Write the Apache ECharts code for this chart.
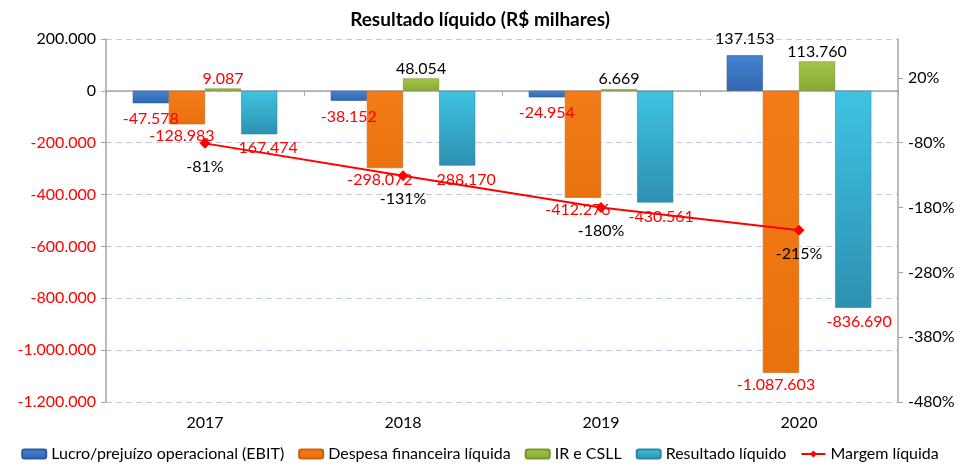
<!DOCTYPE html>
<html>
<head>
<meta charset="utf-8">
<script src="https://cdn.jsdelivr.net/npm/echarts@6/dist/echarts.min.js"></script>
<style>
  html, body { margin: 0; padding: 0; background: #fff; }
  #chart { width: 960px; height: 467px; }
</style>
</head>
<body>
<div id="chart"></div>
<script>
// dados (R$ milhares)
var anos = ["2017", "2018", "2019", "2020"];
var ebit = [-47578, -38152, -24954, 137153];
var despesa = [-128983, -298072, -412276, -1087603];
var irCsll = [9087, 48054, 6669, 113760];
var resultado = [-167474, -288170, -430561, -836690];
var margem = [-81, -131, -180, -215];

var FONT = "Lato";
var FS = 16;

function fmt(v) {
  var s = Math.abs(v).toString().replace(/\B(?=(\d{3})+(?!\d))/g, ".");
  return (v < 0 ? "-" : "") + s;
}

function grad(top, bottom) {
  return new echarts.graphic.LinearGradient(0, 0, 0, 1, [
    { offset: 0, color: top },
    { offset: 1, color: bottom },
  ]);
}

// label: vermelho p/ negativos, preto p/ positivos
function barItems(values, redIdx) {
  return values.map(function (v, i) {
    var red = v < 0 || (redIdx && redIdx.indexOf(i) >= 0);
    return {
      value: v,
      label: {
        position: v < 0 ? "bottom" : "top",
        color: red ? "#ff0000" : "#000",
      },
    };
  });
}

var labelBase = {
  show: true,
  fontFamily: FONT,
  fontSize: FS,
  formatter: function (p) {
    return fmt(p.value);
  },
};

var myChart = echarts.init(document.getElementById("chart"));
var option = {
  animation: false,
  title: {
    text: "Resultado líquido (R$ milhares)",
    left: "center",
    top: 5,
    textStyle: { fontFamily: FONT, fontSize: 19, fontWeight: "bold", color: "#000" },
  },
  legend: {
    bottom: 0,
    left: "center",
    itemWidth: 24,
    itemHeight: 9,
    itemGap: 14,
    textStyle: { fontFamily: FONT, fontSize: FS, color: "#000" },
    data: [
      "Lucro/prejuízo operacional (EBIT)",
      "Despesa financeira líquida",
      "IR e CSLL",
      "Resultado líquido",
      "Margem líquida",
    ],
  },
  grid: { left: 106, right: 62, top: 39, bottom: 65 },
  xAxis: [
    {
      type: "category",
      data: anos,
      axisLine: { show: false, onZero: false },
      axisTick: { show: false },
      axisLabel: { fontFamily: FONT, fontSize: FS, color: "#000", margin: 13 },
    },
    {
      // linha do zero
      type: "category",
      data: anos,
      position: "top",
      axisLine: { show: true, onZero: true, lineStyle: { color: "#a6a6a6", width: 1.5 } },
      axisTick: { show: true, inside: true, length: 5, lineStyle: { color: "#a6a6a6" } },
      axisLabel: { show: false },
    },
  ],
  yAxis: [
    {
      type: "value",
      min: -1200000,
      max: 200000,
      interval: 200000,
      axisLine: { show: true, lineStyle: { color: "#a6a6a6", width: 1.5 } },
      axisTick: { show: true, length: 5, lineStyle: { color: "#a6a6a6" } },
      splitLine: { lineStyle: { color: "#b8cce4", type: [6, 4] } },
      axisLabel: {
        fontFamily: FONT,
        fontSize: FS,
        margin: 10,
        formatter: function (v) {
          return v < 0 ? "{r|" + fmt(v) + "}" : "{k|" + fmt(v) + "}";
        },
        rich: {
          r: { color: "#ff0000", fontFamily: FONT, fontSize: FS },
          k: { color: "#000", fontFamily: FONT, fontSize: FS },
        },
      },
    },
    {
      type: "value",
      min: -480,
      max: 80,
      interval: 100,
      position: "right",
      axisLine: { show: true, lineStyle: { color: "#a6a6a6", width: 1.5 } },
      axisTick: { show: true, length: 5, lineStyle: { color: "#a6a6a6" } },
      splitLine: { show: false },
      axisLabel: {
        fontFamily: FONT,
        fontSize: FS,
        color: "#000",
        margin: 10,
        showMaxLabel: false,
        formatter: "{value}%",
      },
    },
  ],
  series: [
    {
      name: "Lucro/prejuízo operacional (EBIT)",
      type: "bar",
      barGap: "0%",
      barCategoryGap: "27%",
      data: barItems(ebit),
      itemStyle: { color: grad("#4584d2", "#3366ae"), borderColor: "#2c5b9c", borderWidth: 0.6 },
      label: Object.assign({}, labelBase, { distance: 8 }),
    },
    {
      name: "Despesa financeira líquida",
      type: "bar",
      data: barItems(despesa),
      itemStyle: { color: grad("#f47c18", "#ea720e"), borderColor: "#c9620a", borderWidth: 0.6 },
      label: Object.assign({}, labelBase, { distance: 4, offset: [-5, 0] }),
    },
    {
      name: "IR e CSLL",
      type: "bar",
      data: barItems(irCsll, [0]),
      itemStyle: { color: grad("#a6c44c", "#88a834"), borderColor: "#76962a", borderWidth: 0.6 },
      label: Object.assign({}, labelBase, { distance: 2 }),
    },
    {
      name: "Resultado líquido",
      type: "bar",
      data: barItems(resultado),
      itemStyle: { color: grad("#3fc3e3", "#2e90b0"), borderColor: "#2a86a4", borderWidth: 0.6 },
      label: Object.assign({}, labelBase, { distance: 6, offset: [6, 0] }),
    },
    {
      name: "Margem líquida",
      type: "line",
      yAxisIndex: 1,
      data: margem,
      symbol: "diamond",
      symbolSize: 11,
      lineStyle: { color: "#ff0000", width: 2 },
      itemStyle: { color: "#ff0000" },
      label: {
        show: true,
        position: "bottom",
        distance: 10,
        fontFamily: FONT,
        fontSize: FS,
        color: "#000",
        formatter: "{c}%",
      },
      z: 5,
    },
  ],
};
myChart.setOption(option);
</script>
</body>
</html>
